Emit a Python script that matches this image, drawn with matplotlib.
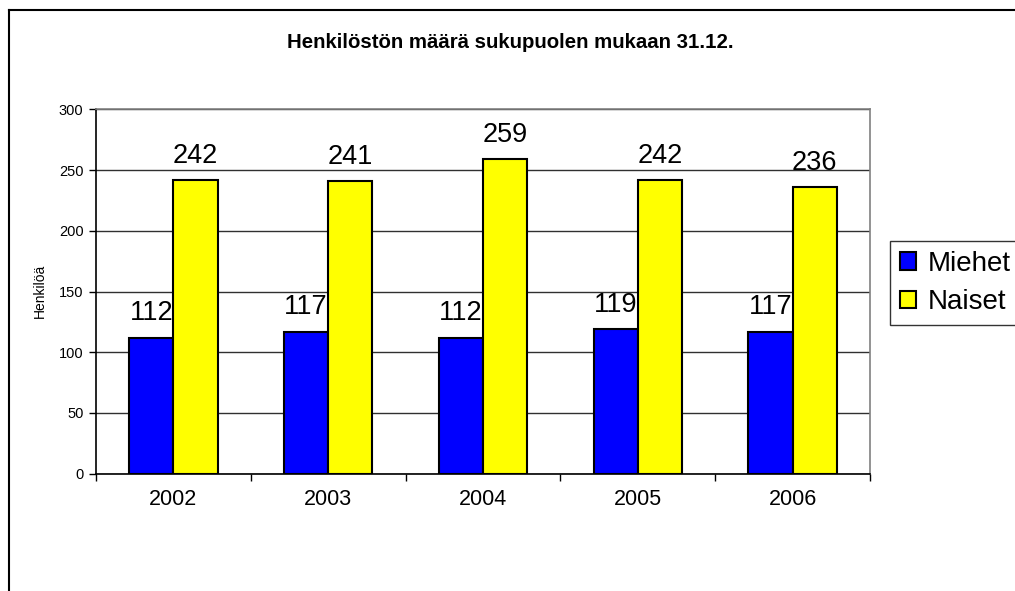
import matplotlib

matplotlib.use("Agg")
import matplotlib.pyplot as plt
from matplotlib.lines import Line2D
import numpy as np

plt.rcParams["font.family"] = ["Liberation Sans", "DejaVu Sans"]

YEARS = ["2002", "2003", "2004", "2005", "2006"]
MIEHET = [112, 117, 112, 119, 117]
NAISET = [242, 241, 259, 242, 236]
SERIES_NAMES = ["Miehet", "Naiset"]
TITLE = "Henkilöstön määrä sukupuolen mukaan 31.12."
Y_LABEL = "Henkilöä"

W, H = 1015, 591
fig = plt.figure(figsize=(W / 100, H / 100), dpi=100)
fig.patch.set_facecolor("white")

# plot area in pixel coords from the reference
left, right, top, bottom = 96, 870, 109.5, 473.5
ax = fig.add_axes([left / W, 1 - bottom / H, (right - left) / W, (bottom - top) / H])

x = np.arange(len(YEARS))
bw = 1 / 3.5
bars_m = ax.bar(x - bw / 2, MIEHET, bw, color="#0000FF", edgecolor="black", linewidth=1.5,
                label=SERIES_NAMES[0], zorder=3)
bars_n = ax.bar(x + bw / 2, NAISET, bw, color="#FFFF00", edgecolor="black", linewidth=1.5,
                label=SERIES_NAMES[1], zorder=3)

for bars, vals in [(bars_m, MIEHET), (bars_n, NAISET)]:
    for b, v in zip(bars, vals):
        ax.annotate(str(v), (b.get_x() + b.get_width() / 2, v), xytext=(0, 12.5),
                    textcoords="offset points", ha="center", va="baseline", fontsize=19.5)

ax.set_xlim(-0.5, len(YEARS) - 0.5)
ax.set_ylim(0, 300)
ax.set_yticks(range(0, 301, 50))
ax.tick_params(axis="y", labelsize=10.5, length=5, width=1, direction="out", pad=4)
ax.yaxis.grid(True, color="#303030", linewidth=1, zorder=0)
ax.set_axisbelow(True)

# category labels centred, tick marks on the boundaries
ax.set_xticks(x)
ax.set_xticklabels(YEARS, fontsize=15.5)
ax.tick_params(axis="x", length=0, pad=11)
ax.set_xticks(np.arange(-0.5, len(YEARS)), minor=True)
ax.tick_params(axis="x", which="minor", length=5, width=1, direction="out")

for side in ["top", "right"]:
    ax.spines[side].set_color("#808080")
    ax.spines[side].set_linewidth(1.2)
for side in ["left", "bottom"]:
    ax.spines[side].set_color("black")
    ax.spines[side].set_linewidth(1.2)

fig.text(40 / W, 1 - 291 / H, Y_LABEL, rotation=90, ha="center", va="center", fontsize=10)
fig.text(510 / W, 1 - 48 / H, TITLE, ha="center", va="baseline", fontsize=14.7, fontweight="bold")

leg = fig.legend(handles=[bars_m, bars_n], labels=SERIES_NAMES, loc="lower left",
                 bbox_to_anchor=(890 / W, 1 - 325 / H), fontsize=20, frameon=True,
                 fancybox=False, edgecolor="black", handlelength=0.6, handleheight=0.6,
                 handletextpad=0.4, borderpad=0.35, labelspacing=0.45, borderaxespad=0)
leg.get_frame().set_linewidth(1.0)

# outer chart border (only left and top visible in the crop)
fig.add_artist(Line2D([9 / W, 9 / W], [0, 1 - 10 / H], color="black", linewidth=1.5))
fig.add_artist(Line2D([9 / W, 1], [1 - 10 / H, 1 - 10 / H], color="black", linewidth=1.5))

fig.savefig("out.png", dpi=100)
